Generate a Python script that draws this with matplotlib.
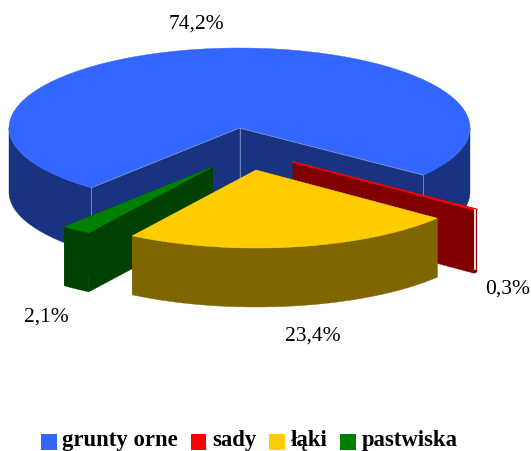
import numpy as np
import matplotlib
matplotlib.use("Agg")
import matplotlib.pyplot as plt
from matplotlib.patches import Patch

categories = ["grunty orne", "sady", "łąki", "pastwiska"]
values = [74.2, 0.3, 23.4, 2.1]
value_labels = ["74,2%", "0,3%", "23,4%", "2,1%"]

top_colors = ["#3366FF", "#FF0000", "#FFCC00", "#008000"]
side_colors = ["#1A3380", "#800000", "#806600", "#004000"]

W, H = 531, 451
RX, RY_BACK, RY_FRONT = 230.5, 80, 78
depths = [64, 63, 59, 59]
apexes = [(239.5, 128), (293, 162), (256, 170), (212.5, 167)]
label_pos = [(196, 24.5), (508, 289.5), (313, 336.5), (46, 317.5)]
START = 230.0  # first slice starts here, slices run clockwise
LINE = "#7C8FC8"

fig = plt.figure(figsize=(W / 100, H / 100), dpi=100)
ax = fig.add_axes([0, 0, 1, 1])
ax.set_xlim(0, W)
ax.set_ylim(H, 0)
ax.axis("off")

angles = START - np.concatenate([[0], np.cumsum(values)]) * 3.6


def rim(apex, a0, a1):
    t = np.radians(np.linspace(a0, a1, max(int(abs(a1 - a0) * 2), 2)))
    s = -np.sin(t)
    ry = np.where(s > 0, RY_FRONT, RY_BACK)
    return apex[0] + RX * np.cos(t), apex[1] + ry * s, s


def wall(x0, y0, x1, y1, depth, color, z):
    ax.fill([x0, x1, x1, x0], [y0, y1, y1 + depth, y0 + depth],
            color=color, lw=0.3, zorder=z)


def draw_slice(i, z):
    apex = apexes[i]
    d = depths[i]
    x, y, s = rim(apex, angles[i], angles[i + 1])
    # outer wall: only the front part of the rim is visible
    front = s >= -0.01
    edges = np.flatnonzero(np.diff(np.r_[0, front.astype(int), 0]))
    for k0, k1 in zip(edges[::2], edges[1::2]):
        fx, fy = x[k0:k1], y[k0:k1]
        ax.fill(np.r_[fx, fx[::-1]], np.r_[fy, fy[::-1] + d],
                color=side_colors[i], lw=0.3, zorder=z)
    # cut walls
    wall(apex[0], apex[1], x[0], y[0], d, side_colors[i], z + 0.1)
    wall(apex[0], apex[1], x[-1], y[-1], d, side_colors[i], z + 0.1)
    if i == 0:
        for px, py in ((x[0], y[0]), (x[-1], y[-1]), apex):
            ax.plot([px, px], [py, py + d], color=LINE, lw=0.6, zorder=z + 0.2)
    # top
    ax.fill(np.r_[apex[0], x], np.r_[apex[1], y], color=top_colors[i], lw=0.3, zorder=z + 0.3)
    if i == 0:
        ax.plot([x[0], apex[0], x[-1]], [y[0], apex[1], y[-1]], color=LINE, lw=0.6, zorder=z + 0.4)
    if i == 1:
        # the thin slice shows a white sliver between its two walls
        ax.plot([x[0], apex[0]], [y[0] + 0.4, apex[1]], color="#FF0000", lw=1.0, zorder=z + 0.4)
        ax.plot([x[0] - 2, x[0] - 2], [y[0] + 1, y[0] + d - 3], color="white", lw=1.2, zorder=z + 0.5)


for z, i in zip([1, 2, 3, 4], [0, 1, 3, 2]):
    draw_slice(i, z)

for lab, (lx, ly) in zip(value_labels, label_pos):
    ax.text(lx, ly, lab, ha="center", va="center", fontsize=15.5,
            family="Liberation Serif", color="black")

handles = [Patch(facecolor=c, edgecolor="none") for c in top_colors]
leg = ax.legend(handles, categories, ncol=4, loc="lower center", bbox_to_anchor=(0.469, 0.0),
                frameon=False, handlelength=0.7, handleheight=0.7, handletextpad=0.25,
                columnspacing=0.55, borderpad=0, borderaxespad=0,
                prop={"family": "Liberation Serif", "weight": "bold", "size": 16.4})
for p in leg.get_patches():
    p.set_y(p.get_y() - 2.6)

fig.savefig("out.png", dpi=100, facecolor="white")
